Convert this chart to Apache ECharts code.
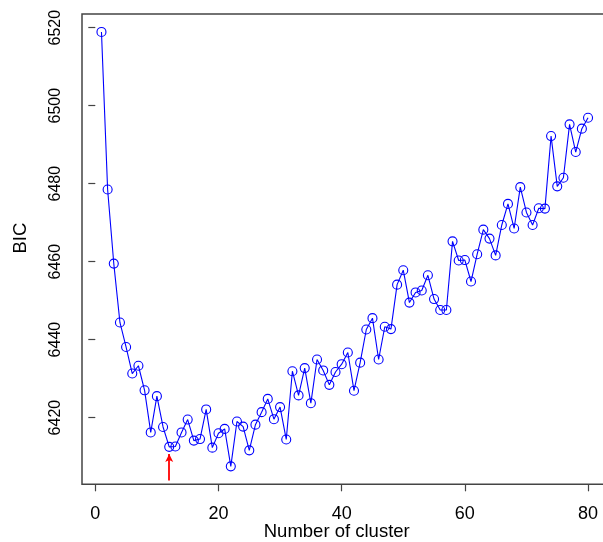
<!DOCTYPE html>
<html>
<head>
<meta charset="utf-8">
<title>BIC</title>
<script src="https://cdn.jsdelivr.net/npm/echarts@6/dist/echarts.min.js"></script>
<style>
  html, body { margin: 0; padding: 0; background: #fff; }
  #myChart { width: 603px; height: 542px; }
</style>
</head>
<body>
<div id="myChart"></div>
<script>
  // number of clusters
  var clusters = [];
  for (var k = 1; k <= 80; k++) clusters.push(k);
  // BIC value for each cluster count
  var bic = [
    6518.9, 6478.5, 6459.5, 6444.4, 6438.1, 6431.3, 6433.3, 6427.0, 6416.2, 6425.5,
    6417.6, 6412.5, 6412.6, 6416.2, 6419.5, 6414.1, 6414.5, 6422.1, 6412.3, 6416.0,
    6417.1, 6407.5, 6419.0, 6417.7, 6411.6, 6418.2, 6421.4, 6424.8, 6419.6, 6422.7,
    6414.4, 6431.9, 6425.7, 6432.7, 6423.7, 6434.9, 6432.1, 6428.4, 6431.7, 6433.7,
    6436.7, 6426.9, 6434.1, 6442.6, 6445.5, 6434.9, 6443.3, 6442.7, 6454.1, 6457.8,
    6449.5, 6452.1, 6452.6, 6456.5, 6450.4, 6447.6, 6447.6, 6465.2, 6460.3, 6460.4,
    6454.9, 6461.9, 6468.2, 6465.9, 6461.6, 6469.4, 6474.8, 6468.5, 6479.1, 6472.6,
    6469.4, 6473.7, 6473.6, 6492.2, 6479.3, 6481.5, 6495.2, 6488.1, 6494.1, 6496.9
  ];
  var xTicks = [0, 20, 40, 60, 80];
  var yTicks = [6420, 6440, 6460, 6480, 6500, 6520];
  // red arrow marking the chosen cluster count
  var arrowX = 12;
  var arrowY = [6403.9, 6410.7];

  var font = 'Liberation Sans, Arial, Helvetica, sans-serif';
  var points = clusters.map(function (c, i) { return [c, bic[i]]; });
  var plain = function (v) { return String(v); };

  var myChart = echarts.init(document.getElementById('myChart'));
  myChart.setOption({
    animation: false,
    grid: {
      show: true,
      left: 82, top: 14, width: 525.5, height: 470.3,
      outerBoundsMode: 'none',
      containLabel: false,
      borderColor: '#444', borderWidth: 1.5,
      backgroundColor: 'transparent'
    },
    xAxis: {
      type: 'value',
      min: -2.16, max: 83.16,
      name: 'Number of cluster',
      nameLocation: 'middle',
      nameGap: 38,
      nameMoveOverlap: false,
      nameTextStyle: { fontFamily: font, fontSize: 18.5, color: '#000', padding: [0, 16, 0, 0] },
      axisLine: { show: false },
      splitLine: { show: false },
      axisTick: { show: true, length: 7, customValues: xTicks, lineStyle: { color: '#444', width: 1.2 } },
      axisLabel: { customValues: xTicks, formatter: plain, margin: 21, fontFamily: font, fontSize: 18, color: '#000' }
    },
    yAxis: {
      type: 'value',
      min: 6402.9, max: 6523.5,
      name: 'BIC',
      nameLocation: 'middle',
      nameRotate: 90,
      nameGap: 52,
      nameMoveOverlap: false,
      nameTextStyle: { fontFamily: font, fontSize: 18.5, color: '#000', padding: [0, 0, 0, 22] },
      axisLine: { show: false },
      splitLine: { show: false },
      axisTick: { show: true, length: 7, customValues: yTicks, lineStyle: { color: '#444', width: 1.2 } },
      axisLabel: { customValues: yTicks, formatter: plain, rotate: 90, margin: 18, fontFamily: font, fontSize: 16, color: '#000' }
    },
    series: [{
      type: 'line',
      data: points,
      symbol: 'circle',
      symbolSize: 9,
      showSymbol: true,
      lineStyle: { color: '#0000ff', width: 1.1 },
      itemStyle: { color: 'rgba(0,0,0,0)', borderColor: '#0000ff', borderWidth: 1.1 },
      markLine: {
        silent: true,
        symbol: ['none', 'arrow'],
        symbolSize: [6, 8],
        label: { show: false },
        lineStyle: { color: '#ff0000', width: 1.8, type: 'solid' },
        data: [[{ coord: [arrowX, arrowY[0]] }, { coord: [arrowX, arrowY[1]] }]]
      }
    }]
  });
</script>
</body>
</html>
